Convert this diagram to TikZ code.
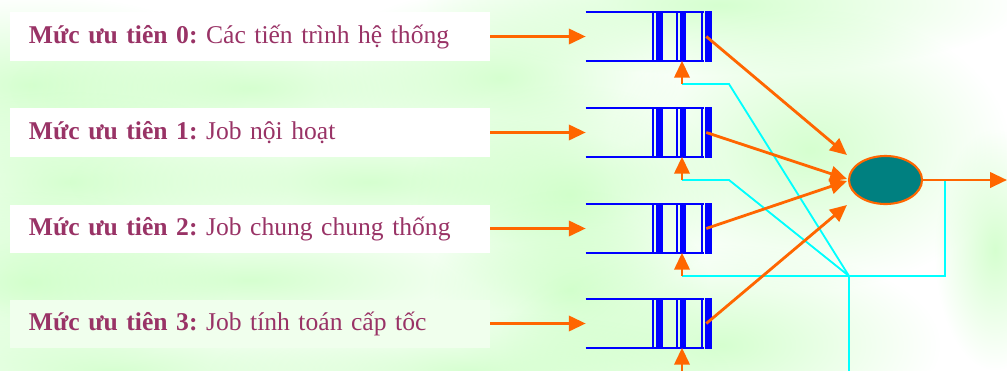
\documentclass[tikz,border=0pt]{standalone}
\usepackage{fontspec}
\setmainfont{Liberation Serif}
\usetikzlibrary{arrows.meta,shapes.geometric,fadings,calc}
\definecolor{lblred}{HTML}{993366}
\definecolor{feedorange}{HTML}{FF6600}
\definecolor{qblue}{HTML}{0000FF}
\definecolor{linkcyan}{HTML}{00FFFF}
\definecolor{cputeal}{HTML}{008080}
\definecolor{bggreen}{HTML}{C8FFC0}
\tikzfading[name=blob, inner color=transparent!0, outer color=transparent!100]
\tikzset{
	prio/.style={
			text=lblred, minimum width=12cm, minimum height=1.2cm,
			text width=11.05cm, inner xsep=0.475cm, align=left,
			font=\fontsize{18.2}{21}\selectfont\frenchspacing
		},
	slot/.style={minimum width=3.15cm, minimum height=1.2cm, inner sep=0pt},
	qline/.style={draw=qblue, line width=1.4pt},
	feed/.style={draw=feedorange, line width=2pt, -{Triangle[length=0.42cm,width=0.38cm]}},
	link/.style={draw=linkcyan, line width=1.3pt, line join=miter},
	cpu/.style={ellipse, draw=feedorange, line width=1.5pt, fill=cputeal,
			minimum width=1.825cm, minimum height=1.2cm, inner sep=0pt}
}

\begin{document}
\begin{tikzpicture}[x=0.025cm,y=-0.025cm]
    \useasboundingbox (0,0) rectangle (1007,370);
    \fill[white] (0,0) rectangle (1007,370);
    \foreach \cx/\cy/\rx/\ry in {30/85/110/45, 250/88/120/35, 500/78/90/45,
            720/5/150/35, 810/150/100/70, 70/182/110/45, 370/182/150/35,
            570/195/80/55, 30/282/100/45, 250/280/150/32, 570/290/70/50,
            720/345/110/50, 110/372/150/32, 470/372/130/30, 995/250/30/60}
    \fill[bggreen,path fading=blob,fill opacity=0.75] (\cx,\cy) ellipse ({\rx*0.05cm} and {\ry*0.05cm});

    \foreach \i/\y/\panel/\txt in {0/36.5/white/Các tiến trình hệ thống,
            1/132.5/white/Job nội hoạt,
            2/228.5/white/Job chung chung thống,
            3/323.5/bggreen!28/Job tính toán cấp tốc}{
        \node[prio,fill=\panel] (lab\i) at (250,\y) {\textbf{Mức ưu tiên \i:} \txt};
        \node[slot] (q\i) at (649,\y) {};
        \coordinate (b\i) at (682,\y+47.5);
    }

    \foreach \i in {0,...,3}{
        \draw[qline] (q\i.north west) -- ++(118,0) (q\i.south west) -- ++(118,0);
        \foreach \t in {67,91,116}
        \draw[qline] ($(q\i.north west)+(\t,0)$) -- ($(q\i.south west)+(\t,0)$);
        \foreach \a/\b in {70/77,94/100}
        \fill[qblue] ($(q\i.north west)+(\a,0)$) rectangle ($(q\i.south west)+(\b,0)$);
        \fill[qblue] ($(q\i.north east)+(-7,-1)$) rectangle ($(q\i.south east)+(0,1)$);
    }

    \node[cpu] (cpu) at (885.5,180) {};
    \coordinate (out) at (1007,180);
    \coordinate (jn) at (849,276);
    \coordinate (tap) at (945,180);
    \coordinate (jdown) at (849,372);

    \draw[link] (b0) -- ++(47,0) -- (jn);
    \draw[link] (b1) -- ++(47,0) -- (jn);
    \draw[link] (b2) -- (jn) -- (jn -| tap) -- (tap);
    \draw[link] (jn) -- (jdown);

    \foreach \i/\dy in {0/-25,1/-1,2/1,3/25}{
        \draw[feed] (lab\i.east) -- (q\i.west);
        \draw[feed] (b\i) -- (b\i |- q\i.south);
        \draw[feed] ($(q\i.east)+(-6,0)$) -- ($(cpu.west)+(-1,\dy)$);
    }
    \draw[feed] (cpu.east) -- (out);
\end{tikzpicture}
\end{document}
